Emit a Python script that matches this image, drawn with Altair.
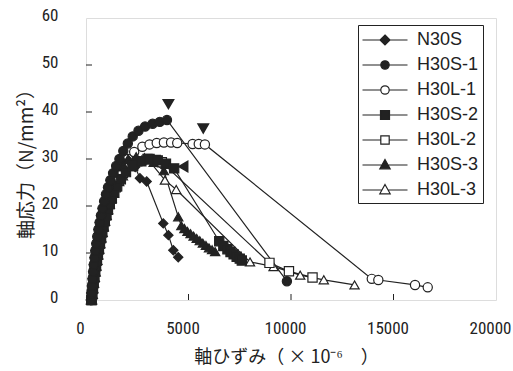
import altair as alt
import pandas as pd

# ---------------- data: axial strain (x1e-6) and axial stress (N/mm2) ----------------
series_names = ["N30S", "H30S-1", "H30L-1", "H30S-2", "H30L-2", "H30S-3", "H30L-3"]
series_shapes = ["diamond", "circle", "circle", "square", "square", "triangle-up", "triangle-up"]
series_fills = ["#222222", "#222222", "#ffffff", "#222222", "#ffffff", "#222222", "#ffffff"]
# drawing rank (open markers underneath filled ones)
series_rank = [4, 7, 3, 6, 2, 5, 1]

n30s_x = [230, 255, 285, 315, 345, 380, 420, 460, 505, 555, 610, 670, 735, 810, 890, 980, 1080, 1200, 1350,
          1550, 1800, 2100, 2400, 2630, 2960, 3770, 4020, 4260, 4500]
n30s_y = [0, 1.5, 3, 4.5, 6, 7.5, 9, 10.5, 12, 13.5, 15, 16.5, 18, 19.5, 21, 22.5, 24, 25.5, 27,
          28.3, 29.3, 29.6, 28.3, 25.9, 25.2, 16.3, 13.8, 10.6, 9.1]

h30s1_x = [250, 270, 295, 320, 350, 380, 415, 455, 500, 550, 605, 665, 730, 805, 885, 975, 1075, 1190, 1320, 1470,
           1630, 1820, 2040, 2280, 2560, 2880, 3250, 3600, 3950, 9800]
h30s1_y = [0, 1.5, 3, 4.5, 6, 7.5, 9, 10.5, 12, 13.5, 15, 16.5, 18, 19.5, 21, 22.5, 24, 25.5, 27, 28.5,
           30, 31.7, 33.3, 34.8, 36, 36.9, 37.5, 37.9, 38.3, 4.0]

h30l1_x = [280, 305, 335, 365, 400, 440, 485, 535, 590, 650, 715, 790, 870, 960, 1060, 1170, 1300, 1450, 1620, 1820,
           2050, 2350, 2750, 3100, 3450, 3800, 4150, 4450, 5200, 5500, 5800, 13940, 14260, 16050, 16670]
h30l1_y = [0, 1.5, 3, 4.5, 6, 7.5, 9, 10.5, 12, 13.5, 15, 16.5, 18, 19.5, 21, 22.5, 24, 25.5, 27, 28.5,
           30, 31.5, 32.6, 33.1, 33.4, 33.5, 33.5, 33.4, 33.2, 33.2, 33.1, 4.5, 4.25, 3.2, 2.7]

h30s2_x = [260, 290, 320, 355, 390, 430, 470, 515, 560, 610, 665, 720, 780, 845, 915, 990, 1070, 1160, 1260, 1380,
           1520, 1700, 1950, 2300, 2700, 3100, 3500, 3900, 4300, 6500, 6700, 6900, 7050, 7200, 7350, 7500, 7600]
h30s2_y = [0, 1.2, 2.4, 3.6, 4.8, 6, 7.2, 8.4, 9.6, 10.8, 12, 13.2, 14.4, 15.6, 16.8, 18, 19.2, 20.4, 21.6, 22.8,
           24.2, 25.7, 27.2, 28.5, 29.5, 30, 29.7, 29, 28, 12.5, 11.5, 10.8, 10.2, 9.7, 9.2, 8.8, 8.4]

h30l2_x = [280, 310, 340, 375, 410, 450, 490, 535, 580, 630, 680, 735, 790, 850, 915, 985, 1060, 1140, 1230, 1330,
           1450, 1600, 1800, 2100, 2500, 3000, 3400, 3700, 8950, 9900, 11050]
h30l2_y = [0, 1.2, 2.4, 3.6, 4.8, 6, 7.2, 8.4, 9.6, 10.8, 12, 13.2, 14.4, 15.6, 16.8, 18, 19.2, 20.4, 21.6, 22.8,
           24, 25.5, 27, 28.5, 29.5, 30, 29.8, 29.3, 7.9, 6.1, 4.8]

h30s3_x = [240, 265, 295, 325, 360, 395, 435, 480, 525, 575, 630, 690, 755, 825, 905, 995, 1095, 1210, 1350,
           1520, 1750, 2050, 2450, 2850, 3300, 3800, 4500, 4650, 4800, 4950, 5100, 5250, 5400, 5550, 5700, 5850,
           6000, 6150, 6300]
h30s3_y = [0, 1.5, 3, 4.5, 6, 7.5, 9, 10.5, 12, 13.5, 15, 16.5, 18, 19.5, 21, 22.5, 24, 25.5, 27,
           28.3, 29.3, 30, 30.5, 30.3, 29.3, 27.5, 17.7, 15.8, 15.2, 14.6, 14.1, 13.6, 13.1, 12.6, 12.1, 11.6,
           11.1, 10.7, 10.3]

h30l3_x = [300, 330, 360, 395, 430, 470, 510, 555, 600, 650, 700, 755, 810, 870, 935, 1005, 1080, 1160, 1250, 1350,
           1470, 1620, 1800, 2150, 2720, 3040, 3850, 4400, 8000, 9150, 10450, 11600, 13100]
h30l3_y = [0, 1.2, 2.4, 3.6, 4.8, 6, 7.2, 8.4, 9.6, 10.8, 12, 13.2, 14.4, 15.6, 16.8, 18, 19.2, 20.4, 21.6, 22.8,
           24, 25.2, 26.4, 29.1, 29.8, 29.8, 25.5, 23.5, 8.1, 7.1, 5.3, 4.3, 3.2]

# peak markers drawn above some curves
mark_x = [4020, 5720, 4750]
mark_y = [41.7, 36.5, 28.4]
mark_shape = ["triangle-down", "triangle-down", "triangle-left"]

x_tick_values = [0, 5000, 10000, 15000, 20000]
y_tick_values = [0, 10, 20, 30, 40, 50, 60]
x_inner_ticks = [5000, 10000, 15000]
y_inner_ticks = [10, 20, 30, 40, 50]

# ---------------- tables ----------------
all_x = [n30s_x, h30s1_x, h30l1_x, h30s2_x, h30l2_x, h30s3_x, h30l3_x]
all_y = [n30s_y, h30s1_y, h30l1_y, h30s2_y, h30l2_y, h30s3_y, h30l3_y]
rows = []
for name, shp, fil, rank, xs, ys in zip(series_names, series_shapes, series_fills, series_rank, all_x, all_y):
    for i, (a, b) in enumerate(zip(xs, ys)):
        rows.append({"series": name, "strain": a, "stress": b, "idx": i,
                     "rank": rank * 1000 + i, "shp": shp, "fil": fil})
df = pd.DataFrame(rows)
marks_df = pd.DataFrame({"strain": mark_x, "stress": mark_y, "shape": mark_shape})

INK = "#222222"
NUM_FONT = "Liberation Sans Narrow, Roboto Condensed, Liberation Sans, sans-serif"
JP_FONT = "Noto Sans CJK JP"
W, H = 410, 282

# legend symbols: a short line with the marker on it
L = 2.25
legend_paths = [
    f"M{-L},0L-0.32,0M0.32,0L{L},0M0,-0.5L0.5,0L0,0.5L-0.5,0Z",
    f"M{-L},0L-0.42,0M0.42,0L{L},0M0.42,0A0.42,0.42,0,1,1,-0.42,0A0.42,0.42,0,1,1,0.42,0Z",
    f"M{-L},0L-0.42,0M0.42,0L{L},0M0.42,0A0.42,0.42,0,1,1,-0.42,0A0.42,0.42,0,1,1,0.42,0Z",
    f"M{-L},0L-0.45,0M0.45,0L{L},0M-0.45,-0.45L0.45,-0.45L0.45,0.45L-0.45,0.45Z",
    f"M{-L},0L-0.42,0M0.42,0L{L},0M-0.42,-0.42L0.42,-0.42L0.42,0.42L-0.42,0.42Z",
    f"M{-L},0L-0.3,0M0.3,0L{L},0M0,-0.55L0.52,0.38L-0.52,0.38Z",
    f"M{-L},0L-0.3,0M0.3,0L{L},0M0,-0.55L0.52,0.38L-0.52,0.38Z",
]

x_enc = alt.X(
    "strain:Q",
    scale=alt.Scale(domain=[0, 20000], nice=False),
    axis=alt.Axis(
        values=x_tick_values, format="d", ticks=False, domain=False, grid=False,
        labelFont=NUM_FONT, labelFontSize=17, labelColor=INK, labelPadding=20, labelOffset=-6,
        labelFlush=False, labelOverlap=False,
        title="軸ひずみ（ × 10⁻⁶　）", titleFont=JP_FONT, titleFontSize=18, titleFontWeight="normal",
        titleColor=INK, titleX=200, titleY=57, titleBaseline="middle",
    ),
)
y_enc = alt.Y(
    "stress:Q",
    scale=alt.Scale(domain=[0, 60], nice=False),
    axis=alt.Axis(
        values=y_tick_values, ticks=False, domain=False, grid=False,
        labelFont=NUM_FONT, labelFontSize=17, labelColor=INK, labelPadding=28, labelOffset=-3,
        labelOverlap=False, labelFlush=False,
        title="軸応力（N/mm²）", titleFont=JP_FONT, titleFontSize=19, titleFontWeight="normal",
        titleColor=INK, titleX=-60, titleBaseline="middle",
    ),
)

base = alt.Chart(df)

lines = base.mark_line(stroke=INK, strokeWidth=1.2).encode(
    x=x_enc, y=y_enc, detail="series:N", order="idx:Q"
)

points = base.mark_point(filled=True, stroke=INK, strokeWidth=1.2, size=85, opacity=1).encode(
    x=x_enc,
    y=y_enc,
    shape=alt.Shape("shp:N", scale=None),
    fill=alt.Fill("fil:N", scale=None),
    order=alt.Order("rank:Q"),
)

peaks = alt.Chart(marks_df).mark_point(filled=True, fill=INK, stroke=INK, size=90, opacity=1).encode(
    x=x_enc, y=y_enc, shape=alt.Shape("shape:N", scale=None)
)

legend_spec = alt.Legend(
    title=None, orient="none", legendX=272, legendY=7,
    strokeColor=INK, fillColor="white", padding=4,
    symbolSize=400, symbolStrokeWidth=1.2, symbolOffset=12,
    labelFont="Liberation Sans, Arial, sans-serif", labelFontSize=18, labelColor=INK,
    labelOffset=21, rowPadding=5,
)
legend_layer = base.transform_filter("false").mark_point(
    filled=False, strokeWidth=1.2, opacity=1
).encode(
    shape=alt.Shape("series:N", scale=alt.Scale(domain=series_names, range=legend_paths), legend=legend_spec),
    fill=alt.Fill("series:N", scale=alt.Scale(domain=series_names, range=series_fills), legend=legend_spec),
    stroke=alt.Stroke("series:N", scale=alt.Scale(domain=series_names, range=[INK] * 7), legend=legend_spec),
)

x_ticks = alt.Chart(pd.DataFrame({"strain": x_inner_ticks})).mark_rule(stroke=INK, strokeWidth=1).encode(
    x=x_enc, y=alt.value(H), y2=alt.value(H - 6)
)
y_ticks = alt.Chart(pd.DataFrame({"stress": y_inner_ticks})).mark_rule(stroke=INK, strokeWidth=1).encode(
    y=y_enc, x=alt.value(0), x2=alt.value(6)
)

chart = (
    alt.layer(x_ticks, y_ticks, lines, points, peaks, legend_layer)
    .resolve_scale(shape="independent", fill="independent", stroke="independent")
    .properties(
        width=W, height=H,
        autosize=alt.AutoSizeParams(type="none"),
        padding={"left": 86, "top": 18, "right": 17, "bottom": 71},
    )
    .configure_view(stroke=INK, strokeWidth=1.6)
    .configure(background="white")
)

chart.save("out.html", embed_options={"renderer": "svg", "actions": False})
